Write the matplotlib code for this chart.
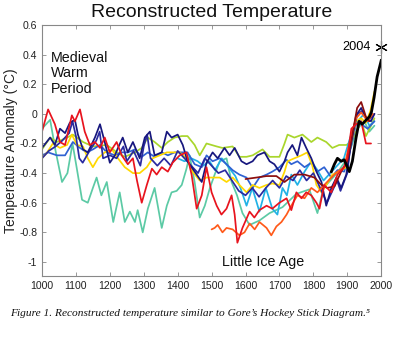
import matplotlib
matplotlib.use("Agg")
import matplotlib.pyplot as plt

plt.rcParams['font.family'] = ['Liberation Sans', 'DejaVu Sans']
plt.rcParams['axes.unicode_minus'] = False

# ---- data ----
red_years = [1000,1018,1038,1053,1068,1088,1097,1112,1126,1141,1156,1171,1185,1200,1220,1235,1253,1268,1280,1294,1309,1324,1338,1353,1371,1385,1406,1426,1441,1456,1471,1485,1500,1515,1529,1544,1559,1568,1576,1591,1612,1626,1641,1662,1679,1700,1721,1735,1750,1765,1779,1794,1809,1818,1832,1853,1871,1891,1900,1912,1926,1941,1955,1970]
red_vals = [-0.12,0.03,-0.07,-0.19,-0.21,-0.01,-0.05,0.03,-0.12,-0.21,-0.19,-0.23,-0.16,-0.26,-0.19,-0.28,-0.34,-0.3,-0.45,-0.6,-0.48,-0.37,-0.41,-0.36,-0.39,-0.33,-0.28,-0.26,-0.41,-0.64,-0.55,-0.36,-0.53,-0.62,-0.68,-0.64,-0.55,-0.68,-0.87,-0.77,-0.66,-0.7,-0.65,-0.62,-0.64,-0.6,-0.57,-0.65,-0.53,-0.57,-0.53,-0.55,-0.6,-0.64,-0.48,-0.53,-0.41,-0.36,-0.3,-0.1,-0.07,-0.05,-0.2,-0.2]

teal_years = [1000,1024,1040,1059,1075,1090,1102,1118,1135,1150,1161,1175,1191,1210,1229,1244,1259,1274,1282,1297,1312,1332,1353,1368,1382,1397,1412,1426,1435,1450,1465,1480,1495,1509,1524,1544,1559,1575,1591,1612,1641,1671,1709,1750,1788,1812,1830,1850,1870,1900,1915,1930,1950,1965,1980]
teal_vals = [-0.1,-0.04,-0.25,-0.46,-0.4,-0.2,-0.36,-0.58,-0.6,-0.5,-0.43,-0.55,-0.46,-0.73,-0.53,-0.73,-0.66,-0.73,-0.65,-0.8,-0.64,-0.5,-0.77,-0.62,-0.53,-0.52,-0.48,-0.37,-0.28,-0.46,-0.7,-0.62,-0.5,-0.41,-0.32,-0.3,-0.46,-0.55,-0.67,-0.75,-0.72,-0.67,-0.63,-0.54,-0.51,-0.67,-0.5,-0.45,-0.4,-0.3,-0.2,-0.1,-0.05,-0.12,-0.08]

yellow_years = [1000,1015,1032,1053,1074,1088,1103,1121,1135,1150,1165,1185,1206,1224,1244,1268,1288,1309,1326,1347,1368,1385,1406,1426,1444,1465,1485,1503,1524,1544,1562,1582,1603,1621,1641,1662,1679,1700,1715,1724,1744,1765,1782,1797,1809,1824,1838,1856,1876,1897,1912,1926,1941,1955,1968,1980]
yellow_vals = [-0.3,-0.26,-0.2,-0.23,-0.21,-0.14,-0.21,-0.22,-0.3,-0.36,-0.3,-0.26,-0.24,-0.3,-0.36,-0.4,-0.4,-0.36,-0.3,-0.28,-0.26,-0.26,-0.26,-0.3,-0.39,-0.45,-0.43,-0.43,-0.43,-0.46,-0.43,-0.48,-0.53,-0.48,-0.5,-0.48,-0.47,-0.48,-0.39,-0.32,-0.3,-0.28,-0.26,-0.35,-0.48,-0.53,-0.48,-0.41,-0.39,-0.36,-0.19,-0.05,-0.03,-0.06,0.02,0.15]

lime_years = [1000,1024,1044,1074,1091,1121,1150,1191,1221,1244,1274,1294,1312,1332,1353,1371,1391,1412,1429,1450,1465,1485,1515,1532,1562,1582,1603,1621,1650,1671,1700,1715,1724,1744,1768,1794,1812,1838,1856,1876,1897,1912,1926,1941,1955,1970,1980]
lime_vals = [-0.24,-0.16,-0.19,-0.16,-0.14,-0.19,-0.22,-0.21,-0.26,-0.29,-0.26,-0.23,-0.16,-0.19,-0.23,-0.19,-0.16,-0.15,-0.15,-0.21,-0.28,-0.2,-0.22,-0.23,-0.22,-0.29,-0.29,-0.28,-0.24,-0.29,-0.29,-0.2,-0.14,-0.16,-0.14,-0.19,-0.16,-0.19,-0.23,-0.21,-0.21,-0.19,-0.12,-0.05,-0.15,-0.08,-0.03]

navy_years = [1000,1024,1038,1053,1068,1082,1097,1106,1121,1135,1156,1171,1185,1200,1215,1224,1238,1253,1268,1288,1303,1318,1332,1353,1368,1382,1400,1415,1429,1450,1471,1485,1503,1518,1538,1553,1568,1588,1603,1621,1635,1656,1671,1685,1700,1715,1724,1738,1753,1765,1779,1794,1809,1824,1838,1853,1868,1882,1897,1912,1926,1941,1955,1970,1980]
navy_vals = [-0.23,-0.16,-0.21,-0.1,-0.13,-0.06,-0.04,-0.14,-0.24,-0.26,-0.16,-0.07,-0.19,-0.33,-0.28,-0.23,-0.16,-0.26,-0.19,-0.3,-0.16,-0.12,-0.28,-0.26,-0.12,-0.16,-0.14,-0.21,-0.32,-0.39,-0.46,-0.33,-0.26,-0.3,-0.23,-0.28,-0.23,-0.32,-0.34,-0.32,-0.28,-0.26,-0.32,-0.34,-0.39,-0.32,-0.26,-0.21,-0.28,-0.16,-0.23,-0.3,-0.39,-0.46,-0.62,-0.5,-0.43,-0.5,-0.41,-0.19,-0.01,0.04,-0.03,-0.05,0.0]

navy2_years = [1000,1020,1040,1060,1080,1090,1100,1110,1120,1140,1160,1170,1180,1200,1220,1240,1250,1270,1290,1300,1310,1320,1340,1360,1380,1400,1420,1440,1460,1480,1500,1520,1540,1560,1580,1600,1620,1640,1660,1680,1700,1720,1740,1760,1780,1800,1820,1840,1850,1870,1880,1900,1910,1930,1945,1960,1980]
navy2_vals = [-0.3,-0.25,-0.22,-0.18,-0.13,-0.05,-0.15,-0.3,-0.33,-0.25,-0.18,-0.12,-0.3,-0.28,-0.3,-0.22,-0.32,-0.25,-0.35,-0.22,-0.14,-0.3,-0.35,-0.3,-0.35,-0.25,-0.3,-0.35,-0.4,-0.3,-0.35,-0.4,-0.38,-0.45,-0.52,-0.55,-0.5,-0.56,-0.5,-0.45,-0.5,-0.42,-0.45,-0.38,-0.45,-0.4,-0.5,-0.6,-0.55,-0.45,-0.52,-0.4,-0.2,0.0,0.02,-0.05,0.0]

royal_years = [1000,1018,1044,1068,1091,1112,1132,1150,1171,1191,1215,1235,1253,1274,1294,1312,1332,1353,1371,1391,1412,1429,1450,1471,1485,1503,1524,1544,1562,1582,1603,1621,1641,1662,1679,1700,1721,1735,1753,1774,1794,1812,1832,1853,1871,1891,1912,1926,1941,1960,1980]
royal_vals = [-0.28,-0.26,-0.28,-0.28,-0.19,-0.23,-0.26,-0.24,-0.21,-0.26,-0.28,-0.26,-0.26,-0.24,-0.29,-0.26,-0.29,-0.26,-0.28,-0.26,-0.26,-0.26,-0.34,-0.36,-0.28,-0.32,-0.3,-0.34,-0.38,-0.41,-0.43,-0.5,-0.43,-0.41,-0.39,-0.36,-0.31,-0.34,-0.32,-0.36,-0.33,-0.39,-0.36,-0.43,-0.38,-0.39,-0.21,-0.07,-0.07,-0.1,-0.05]

cyan_years = [1400,1420,1440,1459,1475,1494,1510,1530,1550,1570,1585,1603,1620,1641,1660,1679,1694,1709,1722,1735,1753,1774,1794,1812,1830,1850,1870,1890,1910,1930,1950,1965,1980]
cyan_vals = [-0.3,-0.32,-0.3,-0.32,-0.35,-0.32,-0.38,-0.3,-0.36,-0.42,-0.5,-0.62,-0.5,-0.66,-0.5,-0.64,-0.68,-0.5,-0.55,-0.41,-0.48,-0.39,-0.32,-0.38,-0.45,-0.4,-0.35,-0.3,-0.15,-0.05,0.0,-0.08,-0.05]

orange_years = [1500,1509,1518,1532,1544,1562,1582,1597,1612,1627,1641,1662,1676,1691,1706,1721,1735,1753,1774,1794,1812,1832,1853,1871,1891,1912,1926,1941,1960,1975]
orange_vals = [-0.78,-0.77,-0.75,-0.8,-0.77,-0.78,-0.82,-0.8,-0.74,-0.78,-0.73,-0.77,-0.82,-0.76,-0.73,-0.68,-0.62,-0.55,-0.57,-0.5,-0.53,-0.48,-0.43,-0.39,-0.36,-0.14,-0.03,0.01,-0.05,0.0]

maroon_years = [1600,1632,1662,1691,1715,1744,1774,1803,1824,1841,1862,1882,1900,1915,1929,1941,1955,1965]
maroon_vals = [-0.44,-0.43,-0.42,-0.42,-0.46,-0.41,-0.41,-0.43,-0.48,-0.5,-0.49,-0.39,-0.32,-0.14,0.04,0.08,-0.02,-0.05]

black_years = [1853,1862,1871,1882,1891,1906,1915,1926,1935,1944,1956,1965,1971,1979,1988,2000]
black_vals = [-0.39,-0.34,-0.3,-0.32,-0.31,-0.39,-0.32,-0.16,-0.05,-0.07,-0.04,-0.02,0.01,0.11,0.25,0.36]

x_ticks = [1000,1100,1200,1300,1400,1500,1600,1700,1800,1900,2000]
y_ticks = [-1,-0.8,-0.6,-0.4,-0.2,0,0.2,0.4,0.6]
y_ticklabels = ['-1','-0.8','-0.6','-0.4','-0.2','0','0.2','0.4','0.6']

# ---- figure ----
fig = plt.figure(figsize=(4.0, 3.49), dpi=100)
ax = fig.add_axes([0.105, 0.209, 0.848, 0.7194])

lw = 1.25
series = [
    (teal_years, teal_vals, '#5ccaa5'),
    (lime_years, lime_vals, '#a9d62c'),
    (cyan_years, cyan_vals, '#22b2e6'),
    (royal_years, royal_vals, '#2f62d2'),
    (yellow_years, yellow_vals, '#ffd800'),
    (navy2_years, navy2_vals, '#2a2aa0'),
    (navy_years, navy_vals, '#17177e'),
    (orange_years, orange_vals, '#ff5a1a'),
    (maroon_years, maroon_vals, '#8b0d0d'),
    (red_years, red_vals, '#e8141e'),
]
for xs, ys, c in series:
    ax.plot(xs, ys, color=c, lw=lw, solid_joinstyle='round', solid_capstyle='round')
ax.plot(black_years, black_vals, color='black', lw=2.0, solid_joinstyle='round')

ax.plot([1998], [0.45], marker=(6, 2, 0), color='black', markersize=9, mew=0.8, clip_on=False)
ax.text(1968, 0.45, '2004', ha='right', va='center', fontsize=9.2)

ax.set_xlim(1000, 2000)
ax.set_ylim(-1.095, 0.6)
ax.set_xticks(x_ticks)
ax.set_yticks(y_ticks)
ax.set_yticklabels(y_ticklabels)
ax.tick_params(direction='in', top=True, right=True, length=3, width=0.6,
               color='#888888', labelsize=7.6, labelcolor='#222222', pad=3.5)
for s in ax.spines.values():
    s.set_color('#888888')
    s.set_linewidth(0.8)

ax.set_ylabel('Temperature Anomaly (°C)', fontsize=10, color='#222222', labelpad=0.5)

ax.text(1027, 0.427, 'Medieval\nWarm\nPeriod', ha='left', va='top', fontsize=10.3,
        linespacing=1.15, color='#111111')
ax.text(1530, -1.0, 'Little Ice Age', ha='left', va='center', fontsize=10.3, color='#111111')

fig.text(0.53, 0.965, 'Reconstructed Temperature', ha='center', va='center', fontsize=14, color='#111111')

fig.text(0.025, 0.103, "Figure 1. Reconstructed temperature similar to Gore\u2019s Hockey Stick Diagram.\u2075",
         ha='left', va='center', fontsize=8.2, style='italic',
         family=['Liberation Serif', 'DejaVu Serif'], color='#111111')

fig.savefig('out.png', dpi=100)
